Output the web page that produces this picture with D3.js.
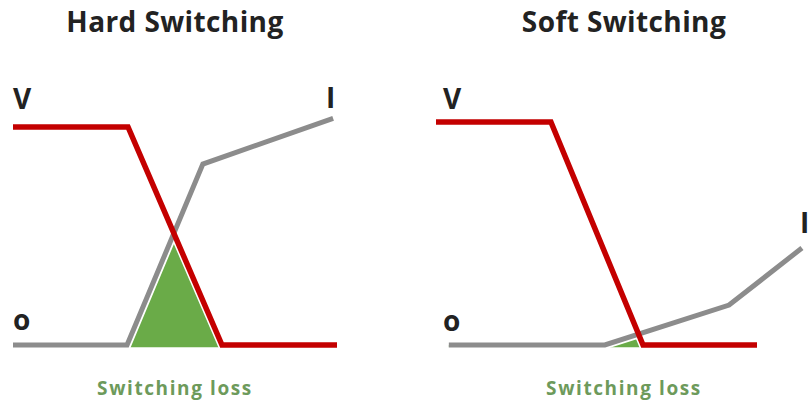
<!DOCTYPE html>
<meta charset="utf-8">
<head>
  <title>Hard vs soft switching</title>
</head>

<style>
body { margin: 0; background: #fff; }
text { font-family: "Open Sans", sans-serif; font-weight: 700; }
.title { fill: #222; font-size: 28px; letter-spacing: 0.4px; }
.sig { fill: #222; font-size: 28px; }
.loss { fill: #6d9a5b; font-size: 19px; letter-spacing: 1.6px; }
</style>

<body>
  <svg width="809" height="402"></svg>

  <script src="https://cdn.jsdelivr.net/npm/d3@7"></script>
  <script>
// panel titles and labels
var titles = ["Hard Switching", "Soft Switching"];
var sigLabels = ["V", "I", "o"];
var lossLabel = "Switching loss";

// waveforms, x = time (0-100), y = level (0-100)
var hardV = [[0, 100], [35.5, 100], [64.5, 0], [100, 0]];
var hardI = [[0, 0], [35.2, 0], [58.6, 83], [98.8, 104]];
var softV = [[0, 100], [35.8, 100], [64.5, 0], [100, 0]];
var softI = [[4, 0], [52.6, 0], [91.3, 17.9], [114, 43.5]];

var panels = [
  { title: titles[0], v: hardV, i: hardI, xr: [13, 337], yr: [345, 127], cx: 175,
    vLab: [13, 109], iLab: [326, 108], oLab: [13, 330] },
  { title: titles[1], v: softV, i: softI, xr: [436, 757], yr: [345, 122], cx: 624,
    vLab: [443, 109], iLab: [800, 233], oLab: [443, 331] }
];

var svg = d3.select('svg');

panels.forEach(function(p, k) {
  var x = d3.scaleLinear().domain([0, 100]).range(p.xr);
  var y = d3.scaleLinear().domain([0, 100]).range(p.yr);

  var line = d3.line()
    .x(function(d) { return x(d[0]); })
    .y(function(d) { return y(d[1]); });

  var area = d3.area()
    .x(function(d) { return x(d[0]); })
    .y0(y(0) + 2.5)
    .y1(function(d) { return y(d[1]); });

  var g = svg.append('g');

  // region under V used to clip the region under I
  g.append('clipPath').attr('id', 'under-v-' + k)
    .append('path').attr('d', area(p.v));

  g.append('path')
    .attr('d', area(p.i))
    .attr('fill', '#6aab48')
    .attr('clip-path', 'url(#under-v-' + k + ')');

  // white halos so the loss area sits a little apart from the lines
  [p.i, p.v].forEach(function(s) {
    g.append('path').attr('d', line(s))
      .attr('fill', 'none').attr('stroke', '#fff').attr('stroke-width', 8.5);
  });

  g.append('path').attr('d', line(p.i))
    .attr('fill', 'none').attr('stroke', '#8c8c8c').attr('stroke-width', 5);
  g.append('path').attr('d', line(p.v))
    .attr('fill', 'none').attr('stroke', '#c40000').attr('stroke-width', 5.5);

  g.append('text').attr('class', 'title')
    .attr('x', p.cx).attr('y', 32)
    .attr('text-anchor', 'middle')
    .text(p.title);

  g.append('text').attr('class', 'sig').attr('x', p.vLab[0]).attr('y', p.vLab[1]).text(sigLabels[0]);
  g.append('text').attr('class', 'sig').attr('x', p.iLab[0]).attr('y', p.iLab[1]).text(sigLabels[1]);
  g.append('text').attr('class', 'sig').attr('x', p.oLab[0]).attr('y', p.oLab[1]).text(sigLabels[2]);

  g.append('text').attr('class', 'loss')
    .attr('x', p.cx).attr('y', 395)
    .attr('text-anchor', 'middle')
    .text(lossLabel);
});
  </script>
</body>
</html>
